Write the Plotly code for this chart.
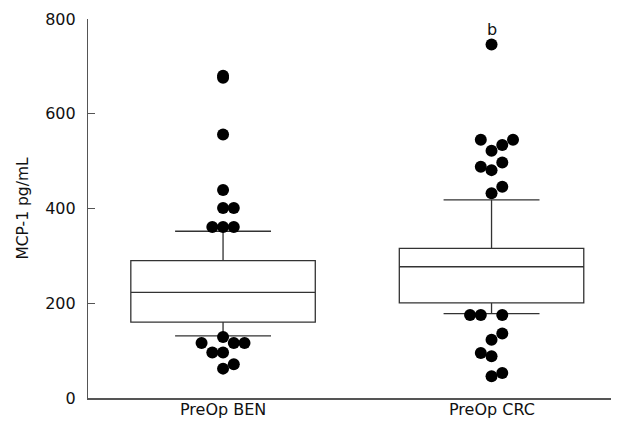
import plotly.graph_objects as go

# ---- data ----
categories = ["PreOp BEN", "PreOp CRC"]
q1 = [160, 201]
median = [223, 277]
q3 = [290, 316]
lower_whisker = [131, 178]
upper_whisker = [352, 418]

# points outside the whiskers, with swarm slot (-2..+2) for horizontal spread
ben_values = [680, 676, 556, 439, 401, 401, 361, 361, 361, 129, 116, 116, 116, 96, 96, 62, 71]
ben_slots = [0, 0, 0, 0, 0, 1, -1, 0, 1, 0, -2, 1, 2, -1, 0, 0, 1]
crc_values = [746, 545, 545, 522, 534, 488, 481, 497, 432, 446, 175, 175, 175, 136, 123, 95, 88, 46, 53]
crc_slots = [0, -1, 2, 0, 1, -1, 0, 1, 0, 1, -2, -1, 1, 1, 0, -1, 0, 0, 1]
annotation_text = "b"

y_ticks = [0, 200, 400, 600, 800]

FONT = "DejaVu Sans"
slot_step = 0.04

fig = go.Figure()
for i, cat in enumerate(categories):
    fig.add_trace(go.Box(
        x=[i], q1=[q1[i]], median=[median[i]], q3=[q3[i]],
        lowerfence=[lower_whisker[i]], upperfence=[upper_whisker[i]],
        width=0.687, whiskerwidth=0.52,
        fillcolor="white", line=dict(color="#333333", width=1.3),
        boxpoints=False, showlegend=False, hoverinfo="skip",
    ))

for i, (vals, slots) in enumerate([(ben_values, ben_slots), (crc_values, crc_slots)]):
    fig.add_trace(go.Scatter(
        x=[i + s * slot_step for s in slots], y=vals, mode="markers",
        marker=dict(color="black", size=12, line=dict(width=0)),
        showlegend=False,
    ))

fig.add_annotation(x=1, y=crc_values[0], text=annotation_text, showarrow=False,
                   yanchor="bottom", yshift=4, font=dict(family=FONT, size=16, color="#111"))

# category labels just under the x axis
for i, cat in enumerate(categories):
    fig.add_annotation(x=i, y=0, yref="y", text=cat, showarrow=False,
                       yanchor="top", yshift=0,
                       font=dict(family=FONT, size=16, color="#111"))

# page body has an 8px margin, so the figure is sized to fit the window
fig.update_layout(
    width=611, height=418,
    margin=dict(l=80, r=1, t=11, b=28),
    plot_bgcolor="white", paper_bgcolor="white",
    font=dict(family=FONT, size=16, color="#111"),
    xaxis=dict(range=[-0.503, 1.471], tickvals=[0, 1], showticklabels=False,
               showline=True, linecolor="#555", linewidth=1.5, ticks="",
               showgrid=False, zeroline=False, automargin=False),
    yaxis=dict(range=[0, 800], tickvals=y_ticks, showline=True, linecolor="#555",
               linewidth=1.2, ticks="inside", ticklen=7, tickcolor="#555",
               ticklabelstandoff=8,
               showgrid=False, zeroline=False, tickfont=dict(size=16), automargin=False,
               title=dict(text="MCP-1 pg/mL", font=dict(size=15.5), standoff=12)),
)

fig.write_html("out.html")
